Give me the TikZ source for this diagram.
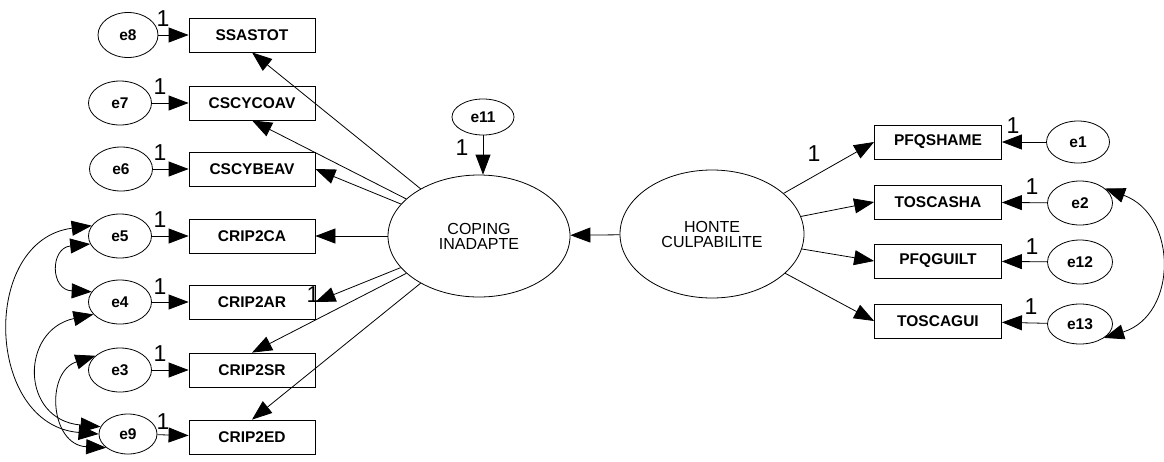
\documentclass[tikz,border=0pt]{standalone}
\usepackage{fontspec}
\setmainfont{Liberation Sans}
\usetikzlibrary{arrows.meta,shapes.geometric}

\begin{document}
\begin{tikzpicture}[x=1pt,y=-1pt,
  obs/.style={draw, line width=0.8pt, minimum width=126pt, minimum height=34pt,
    inner sep=0pt, font=\fontsize{15.5}{16}\selectfont\bfseries},
  err/.style={draw, ellipse, line width=0.8pt, minimum width=63pt, minimum height=44pt,
    inner sep=0pt, font=\fontsize{15.5}{16}\selectfont\bfseries},
  lat/.style={draw, ellipse, line width=0.8pt, inner sep=0pt, align=center,
    font=\fontsize{16}{15}\selectfont},
  one/.style={inner sep=0pt, font=\fontsize{23}{23}\selectfont},
  tip/.tip={Triangle[length=20pt,width=15pt]},
  path/.style={line width=0.8pt, -tip},
  cov/.style={line width=0.8pt, tip-tip},
]
\useasboundingbox (0,0) rectangle (1164,461);

% latent variables
\node[lat, minimum width=182pt, minimum height=122pt] (coping) at (479,236) {COPING\\INADAPTE};
\node[lat, minimum width=184pt, minimum height=128pt] (honte) at (712,234) {HONTE\\CULPABILITE};
\node[err, minimum width=62pt, minimum height=36pt] (e11) at (483,117) {e11};

% left indicators
\node[obs] (ssastot)  at (252,35)  {SSASTOT};
\node[obs] (cscycoav) at (252,103) {CSCYCOAV};
\node[obs] (cscybeav) at (252,169) {CSCYBEAV};
\node[obs] (crip2ca)  at (252,236) {CRIP2CA};
\node[obs] (crip2ar)  at (252,302) {CRIP2AR};
\node[obs] (crip2sr)  at (252,370) {CRIP2SR};
\node[obs] (crip2ed)  at (252,437) {CRIP2ED};

% left error terms
\node[err, minimum width=60pt, minimum height=45pt] (e8) at (128,35) {e8};
\node[err] (e7) at (120,103) {e7};
\node[err] (e6) at (121,169) {e6};
\node[err] (e5) at (120,236) {e5};
\node[err] (e4) at (120,302) {e4};
\node[err] (e3) at (120,370) {e3};
\node[err, minimum width=58pt, minimum height=40pt] (e9) at (128,434) {e9};

% right indicators
\node[obs, minimum width=127pt] (pfqshame) at (938,142) {PFQSHAME};
\node[obs, minimum width=127pt] (toscasha) at (938,202) {TOSCASHA};
\node[obs, minimum width=127pt] (pfqguilt) at (938,261) {PFQGUILT};
\node[obs, minimum width=127pt] (toscagui) at (938,321) {TOSCAGUI};

% right error terms
\node[err, minimum width=63pt, minimum height=42pt] (e1)  at (1078,142) {e1};
\node[err, minimum width=65pt, minimum height=44pt] (e2)  at (1080,203) {e2};
\node[err, minimum width=65pt, minimum height=44pt] (e12) at (1080,262) {e12};
\node[err, minimum width=65pt, minimum height=40pt] (e13) at (1080,324) {e13};

% error paths (fixed to 1)
\foreach \e/\v in {e8/ssastot, e7/cscycoav, e6/cscybeav, e5/crip2ca, e4/crip2ar, e3/crip2sr, e9/crip2ed}
  \draw[path] (\e) -- (\v);
\foreach \e/\v in {e1/pfqshame, e2/toscasha, e12/pfqguilt, e13/toscagui}
  \draw[path] (\e) -- (\v);
\draw[path] (e11.south) -- (e11.south |- coping.north);

% structural path
\draw[path] (honte) -- (coping);

% loadings of COPING INADAPTE
\draw[path] (coping) -- (ssastot.south);
\draw[path] (coping) -- (cscycoav.south);
\draw[path] (coping) -- (cscybeav.east);
\draw[path] (coping) -- (crip2ca.east);
\draw[path] (coping) -- (crip2ar.east);
\draw[path] (coping) -- (crip2sr.north);
\draw[path] (coping) -- (crip2ed.north);

% loadings of HONTE CULPABILITE
\draw[path] (honte) -- (pfqshame.west);
\draw[path] (honte) -- (toscasha.west);
\draw[path] (honte) -- (pfqguilt.west);
\draw[path] (honte) -- (toscagui.west);

% error covariances
\draw[cov] (e5.195) .. controls (50,248) and (50,290) .. (e4.160);
\draw[cov] (e5.160) .. controls (-20,240) and (-15,425) .. (e9.180);
\draw[cov] (e4.205) .. controls (20,330) and (20,420) .. (e9.165);
\draw[cov] (e3.150) .. controls (45,372) and (50,445) .. (e9.212);
\draw[cov] (e2.30) .. controls (1178,215) and (1178,315) .. (e13.-30);

% fixed parameter labels
\node[one] (l8)  at (163,19)  {1};
\node[one] (l7)  at (160,87)  {1};
\node[one] (l6)  at (160,153) {1};
\node[one] (l5)  at (160,220) {1};
\node[one] (l4)  at (160,287) {1};
\node[one] (l3)  at (160,354) {1};
\node[one] (l9)  at (163,422) {1};
\node[one] (l11) at (462,148) {1};
\node[one] (lar) at (313,295) {1};
\node[one] (lsh) at (814,154) {1};
\node[one] (l1)  at (1013,126) {1};
\node[one] (l2)  at (1032,187) {1};
\node[one] (l12) at (1032,247) {1};
\node[one] (l13) at (1031,307) {1};
\end{tikzpicture}
\end{document}
